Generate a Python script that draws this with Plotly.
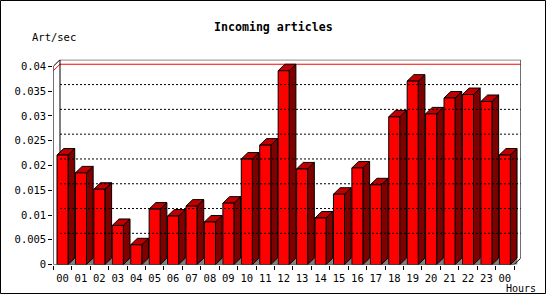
import plotly.graph_objects as go

# ---------------- data ----------------
hours = ["00", "01", "02", "03", "04", "05", "06", "07", "08", "09", "10", "11",
         "12", "13", "14", "15", "16", "17", "18", "19", "20", "21", "22", "23", "00"]
rates = [0.0221, 0.0185, 0.0152, 0.0079, 0.0040, 0.0112, 0.0098, 0.0118, 0.0086,
         0.0124, 0.0213, 0.0241, 0.0391, 0.0193, 0.0094, 0.0142, 0.0195, 0.0161,
         0.0298, 0.0370, 0.0304, 0.0336, 0.0343, 0.0329, 0.0221]
y_tick_vals = [0, 0.005, 0.01, 0.015, 0.02, 0.025, 0.03, 0.035, 0.04]
y_tick_text = ["0", "0.005", "0.01", "0.015", "0.02", "0.025", "0.03", "0.035", "0.04"]
title_text = "Incoming articles"
y_label = "Art/sec"
x_label = "Hours"

# ---------------- geometry (pixel based) ----------------
W, H = 550, 300
PX_L, PX_FR = 53.3, 514.05          # front plane left/right px
DEPTH_X, DEPTH_Y = 6.7, 6.6          # 3-D offset in px
PY_BOTTOM, PY_TOP_FRONT = 270.0, 67.6
n = len(hours)
slot_px = (PX_FR - PX_L) / n
DX = DEPTH_X / slot_px
YMAX = y_tick_vals[-1]
ppu = (PY_BOTTOM - PY_TOP_FRONT) / YMAX
DY = DEPTH_Y / ppu
x_lo, x_hi = -0.5, n - 0.5
HALF = 0.3

FONT = "DejaVu Sans Mono"


def polys(list_of_pts):
    xs, ys = [], []
    for pts in list_of_pts:
        for (a, b) in pts:
            xs.append(a)
            ys.append(b)
        xs.append(pts[0][0])
        ys.append(pts[0][1])
        xs.append(None)
        ys.append(None)
    return xs, ys


fig = go.Figure()

# back-plane dotted grid lines
gx, gy = [], []
for v in y_tick_vals[1:-1]:
    gx += [x_lo + DX, x_hi + DX, None]
    gy += [v + DY, v + DY, None]
fig.add_trace(go.Scatter(x=gx, y=gy, mode="lines", xaxis="x2",
                         line=dict(color="black", width=1, dash="2px,2px"),
                         hoverinfo="skip", cliponaxis=False))

# max line (red)
vmax = max(rates)
fig.add_trace(go.Scatter(x=[x_lo, x_lo + DX, x_hi + DX], y=[vmax, vmax + DY, vmax + DY],
                         mode="lines", line=dict(color="#ff0000", width=1),
                         hoverinfo="skip", cliponaxis=False))

# back-left vertical edge
fig.add_trace(go.Scatter(x=[x_lo + DX, x_lo + DX], y=[DY, YMAX + DY], mode="lines",
                         line=dict(color="black", width=1), hoverinfo="skip",
                         cliponaxis=False))

# bars
shadow_p, side_p, top_p, front_p = [], [], [], []
for i, v in enumerate(rates):
    x0, x1 = i - HALF, i + HALF
    shadow_p.append([(x1, 0), (x1 + DX, DY), (x1 + DX, 0)])
    side_p.append([(x1, 0), (x1, v), (x1 + DX, v + DY), (x1 + DX, DY)])
    top_p.append([(x0, v), (x0 + DX, v + DY), (x1 + DX, v + DY), (x1, v)])
    front_p.append([(x0, 0), (x0, v), (x1, v), (x1, 0)])

for plist, col, lw in [(shadow_p, "#808080", 0), (side_p, "#800000", 1),
                       (top_p, "#c00000", 1), (front_p, "#ff0000", 1)]:
    xs, ys = polys(plist)
    fig.add_trace(go.Scatter(x=xs, y=ys, mode="lines", fill="toself", fillcolor=col,
                             line=dict(color="black" if lw else col, width=max(lw, 0.5)),
                             hoverinfo="skip", cliponaxis=False))

# front/outer frame
fig.add_trace(go.Scatter(
    x=[x_lo, x_lo, x_lo + DX, x_hi + DX, x_hi + DX, x_hi, x_lo],
    y=[0, YMAX, YMAX + DY, YMAX + DY, DY, 0, 0],
    mode="lines", line=dict(color="black", width=1), hoverinfo="skip",
    cliponaxis=False))

xdom = [PX_L / W, (PX_FR + DEPTH_X) / W]
ydom = [(H - PY_BOTTOM) / H, (H - (PY_TOP_FRONT - DEPTH_Y)) / H]
xrange = [x_lo, x_hi + DX]

fig.update_layout(
    width=W, height=H, margin=dict(l=0, r=0, t=0, b=0),
    paper_bgcolor="white", plot_bgcolor="white", showlegend=False,
    xaxis=dict(domain=xdom, range=xrange, showgrid=False, zeroline=False,
               showline=False, tickmode="array", tickvals=list(range(n)),
               ticktext=hours, ticks="outside", ticklen=4,
               tickcolor="rgba(0,0,0,0)",
               tickfont=dict(family=FONT, size=10.5, color="black"), fixedrange=True),
    xaxis2=dict(domain=xdom, range=xrange, overlaying="x", anchor="y", side="bottom",
                showgrid=False, zeroline=False, showline=False, tickmode="array",
                tickvals=[i - 0.5 for i in range(n + 1)], ticks="outside", ticklen=4,
                tickcolor="black", showticklabels=False, fixedrange=True),
    yaxis=dict(domain=ydom, range=[0, YMAX + DY], showgrid=False, zeroline=False,
               showline=False, tickmode="array", tickvals=y_tick_vals,
               ticktext=y_tick_text, ticks="outside", ticklen=4, tickcolor="black",
               tickfont=dict(family=FONT, size=10.5, color="black"), fixedrange=True),
    annotations=[
        dict(text="<b>" + title_text + "</b>", x=273.5 / W, y=1 - 27.5 / H,
             xref="paper", yref="paper", showarrow=False, xanchor="center",
             yanchor="middle", font=dict(family=FONT, size=11.6, color="black")),
        dict(text=y_label, x=30 / W, y=1 - 37.5 / H, xref="paper", yref="paper",
             showarrow=False, xanchor="left", yanchor="middle",
             font=dict(family=FONT, size=10.5, color="black")),
        dict(text=x_label, x=505 / W, y=1 - 294.5 / H, xref="paper", yref="paper",
             showarrow=False, xanchor="left", yanchor="middle", borderpad=0,
             font=dict(family=FONT, size=10, color="black")),
    ],
    shapes=[dict(type="rect", xref="paper", yref="paper", x0=0.5 / W, x1=545.5 / W,
                 y0=0.5 / H, y1=1 - 0.5 / H, line=dict(color="black", width=1))],
)

fig.write_html("out.html")
